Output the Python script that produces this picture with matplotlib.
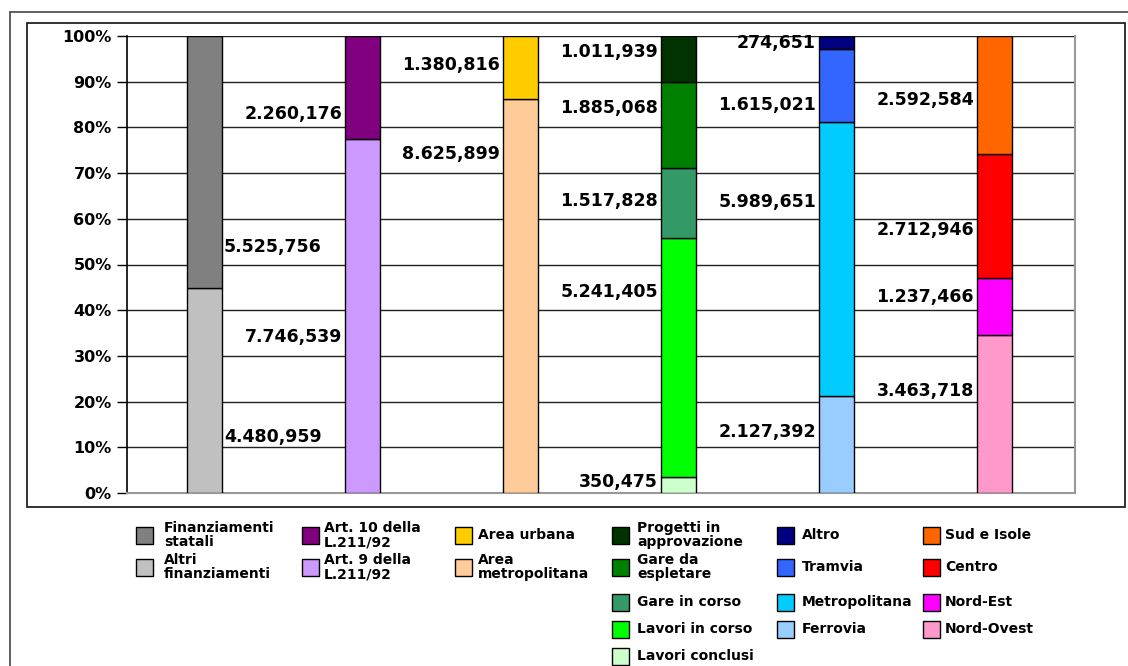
import matplotlib
matplotlib.use("Agg")
import matplotlib.pyplot as plt
from matplotlib.patches import Rectangle
import numpy as np

# ---------------- data ----------------
# each group listed bottom -> top
group_names = [
    ["Altri\nfinanziamenti", "Finanziamenti\nstatali"],
    ["Art. 9 della\nL.211/92", "Art. 10 della\nL.211/92"],
    ["Area\nmetropolitana", "Area urbana"],
    ["Lavori conclusi", "Lavori in corso", "Gare in corso", "Gare da\nespletare", "Progetti in\napprovazione"],
    ["Ferrovia", "Metropolitana", "Tramvia", "Altro"],
    ["Nord-Ovest", "Nord-Est", "Centro", "Sud e Isole"],
]
group_values = [
    [4480.959, 5525.756],
    [7746.539, 2260.176],
    [8625.899, 1380.816],
    [350.475, 5241.405, 1517.828, 1885.068, 1011.939],
    [2127.392, 5989.651, 1615.021, 274.651],
    [3463.718, 1237.466, 2712.946, 2592.584],
]
group_labels = [
    ["4.480,959", "5.525,756"],
    ["7.746,539", "2.260,176"],
    ["8.625,899", "1.380,816"],
    ["350,475", "5.241,405", "1.517,828", "1.885,068", "1.011,939"],
    ["2.127,392", "5.989,651", "1.615,021", "274,651"],
    ["3.463,718", "1.237,466", "2.712,946", "2.592,584"],
]
group_colors = [
    ["#C0C0C0", "#808080"],
    ["#CC99FF", "#800080"],
    ["#FFCC99", "#FFCC00"],
    ["#CCFFCC", "#00FF00", "#339966", "#008000", "#003300"],
    ["#99CCFF", "#00CCFF", "#3366FF", "#000080"],
    ["#FF99CC", "#FF00FF", "#FF0000", "#FF6600"],
]
# manual label heights (in % of the axis), as placed in the original
label_y = [
    [12.3, 53.8],
    [34.1, 82.9],
    [74.2, 93.7],
    [2.4, 44.0, 63.9, 84.2, 96.5],
    [13.3, 63.7, 84.9, 98.5],
    [22.3, 42.9, 57.5, 86.0],
]
yticks = [0, 10, 20, 30, 40, 50, 60, 70, 80, 90, 100]
ytick_labels = ["0%", "10%", "20%", "30%", "40%", "50%", "60%", "70%", "80%", "90%", "100%"]

# ---------------- figure ----------------
W, H = 1128, 666
fig = plt.figure(figsize=(W / 100, H / 100), dpi=100)
fig.patch.set_facecolor("white")

def fx(px):
    return px / W

def fy(py):
    return 1 - py / H

# outer borders
fig.add_artist(Rectangle((fx(10), fy(700)), fx(1200), fy(12) - fy(700), transform=fig.transFigure,
                         fill=False, edgecolor="#444444", linewidth=1.2))
fig.add_artist(Rectangle((fx(27), fy(507)), fx(1125) - fx(27), fy(23) - fy(507), transform=fig.transFigure,
                         fill=False, edgecolor="#111111", linewidth=1.2))

ax = fig.add_axes([fx(127), fy(493), fx(1075) - fx(127), fy(36) - fy(493)])
ax.set_xlim(-0.5, 5.5)
ax.set_ylim(0, 100)

bar_w = 0.22
xs = np.arange(len(group_values)) - 0.01
for i, (vals, cols, labs, ly) in enumerate(zip(group_values, group_colors, group_labels, label_y)):
    total = sum(vals)
    pct = [v / total * 100 for v in vals]
    bottom = 0
    for p, c in zip(pct, cols):
        ax.bar(xs[i], p, bottom=bottom, width=bar_w, color=c, edgecolor="black", linewidth=1.0, zorder=3)
        bottom += p
    for lab, yy in zip(labs, ly):
        if i == 0:
            ax.annotate(lab, (xs[i] + bar_w / 2, yy), xytext=(2, 0), textcoords="offset pixels",
                        ha="left", va="center", fontsize=12.5, fontweight="bold", color="black", zorder=4)
        else:
            ax.annotate(lab, (xs[i] - bar_w / 2, yy), xytext=(-3, 0), textcoords="offset pixels",
                        ha="right", va="center", fontsize=12.5, fontweight="bold", color="black", zorder=4)

ax.set_yticks(yticks)
ax.set_yticklabels(ytick_labels, fontsize=11.5, fontweight="bold")
ax.set_xticks([])
ax.yaxis.grid(True, color="#222222", linewidth=1.0, zorder=0)
ax.set_axisbelow(True)
ax.tick_params(axis="y", direction="out", length=7, width=1, color="black", pad=4)
ax.spines["left"].set_color("black")
ax.spines["left"].set_linewidth(1.2)
for s in ["right", "bottom"]:
    ax.spines[s].set_color("#999999")
    ax.spines[s].set_linewidth(1.5)
ax.spines["top"].set_visible(False)

# ---------------- legend (manual, column by column) ----------------
col_patch_x = [136, 302, 455, 612, 777, 923]
col_text_x = [164, 324, 478, 637, 802, 945]
row_y = {2: [535, 567], 4: [535, 567, 602, 629], 5: [535, 567, 602, 629, 656]}
ps = 17
for c, (names, cols) in enumerate(zip(group_names, group_colors)):
    names_tb = names[::-1]
    cols_tb = cols[::-1]
    ys = row_y[len(names_tb)]
    for name, col, yc in zip(names_tb, cols_tb, ys):
        fig.add_artist(Rectangle((fx(col_patch_x[c]), fy(yc + ps / 2)), fx(ps), fy(yc - ps / 2) - fy(yc + ps / 2),
                                 transform=fig.transFigure, facecolor=col, edgecolor="black", linewidth=1.0))
        fig.text(fx(col_text_x[c]), fy(yc), name, ha="left", va="center", fontsize=10,
                 fontweight="bold", linespacing=1.05, color="black")

fig.savefig("out.png", dpi=100)
